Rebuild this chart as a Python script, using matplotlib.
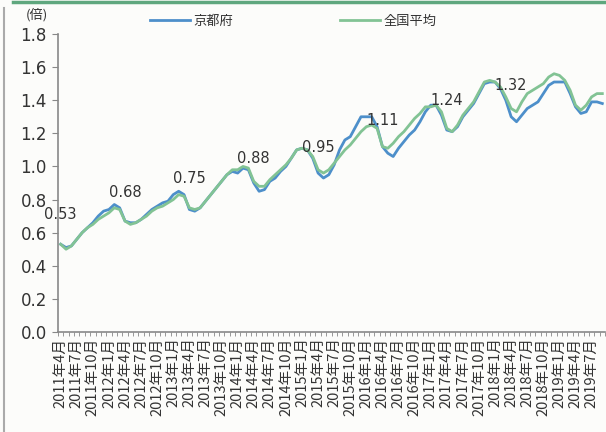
import numpy as np
import matplotlib
matplotlib.use("Agg")
import matplotlib.pyplot as plt
from matplotlib.lines import Line2D

plt.rcParams['font.family'] = ['DejaVu Sans', 'Noto Sans CJK JP']

# monthly series, 2011-04 .. 2019-09
months = [f"{y}年{m}月" for y in range(2011, 2020) for m in range(1, 13)][3:3 + 102]

kyoto = [0.53, 0.51, 0.52, 0.56, 0.60, 0.63, 0.66, 0.70, 0.73, 0.74, 0.77, 0.75,
         0.67, 0.66, 0.66, 0.68, 0.71, 0.74, 0.76, 0.78, 0.79, 0.83, 0.85, 0.83,
         0.74, 0.73, 0.75, 0.79, 0.83, 0.87, 0.91, 0.95, 0.97, 0.96, 0.99, 0.98,
         0.90, 0.85, 0.86, 0.91, 0.93, 0.97, 1.00, 1.05, 1.10, 1.11, 1.10, 1.05,
         0.96, 0.93, 0.95, 1.01, 1.10, 1.16, 1.18, 1.24, 1.30, 1.30, 1.30, 1.24,
         1.12, 1.08, 1.06, 1.11, 1.15, 1.19, 1.22, 1.27, 1.33, 1.37, 1.37, 1.31,
         1.22, 1.21, 1.24, 1.30, 1.34, 1.38, 1.44, 1.50, 1.51, 1.51, 1.47, 1.40,
         1.30, 1.27, 1.31, 1.35, 1.37, 1.39, 1.44, 1.49, 1.51, 1.51, 1.51, 1.44,
         1.36, 1.32, 1.33, 1.39, 1.39, 1.38]

national = [0.53, 0.50, 0.52, 0.56, 0.60, 0.63, 0.65, 0.68, 0.70, 0.72, 0.75, 0.74,
            0.67, 0.65, 0.66, 0.68, 0.70, 0.73, 0.75, 0.76, 0.78, 0.80, 0.83, 0.82,
            0.75, 0.74, 0.75, 0.79, 0.83, 0.87, 0.91, 0.95, 0.98, 0.98, 1.00, 0.99,
            0.91, 0.88, 0.88, 0.92, 0.95, 0.98, 1.01, 1.05, 1.10, 1.11, 1.10, 1.06,
            0.98, 0.96, 0.98, 1.02, 1.06, 1.10, 1.13, 1.17, 1.21, 1.24, 1.25, 1.23,
            1.12, 1.11, 1.14, 1.18, 1.21, 1.25, 1.29, 1.32, 1.36, 1.36, 1.37, 1.33,
            1.23, 1.21, 1.25, 1.31, 1.35, 1.39, 1.45, 1.51, 1.52, 1.51, 1.48, 1.42,
            1.35, 1.33, 1.39, 1.44, 1.46, 1.48, 1.50, 1.54, 1.56, 1.55, 1.52, 1.46,
            1.37, 1.34, 1.37, 1.42, 1.44, 1.44]

# value labels (text, month index, height)
notes = ["0.53", "0.68", "0.75", "0.88", "0.95", "1.11", "1.24", "1.32"]
note_idx = [0, 12, 24, 36, 48, 60, 72, 84]
note_y = [0.71, 0.845, 0.925, 1.05, 1.117, 1.28, 1.40, 1.49]

blue = "#4d8fca"
green = "#82c394"
bg = "#fcfcfa"
txt = "#333333"
cjk = ['Noto Sans CJK JP', 'DejaVu Sans']

fig = plt.figure(figsize=(6.06, 4.32), dpi=100, facecolor=bg)
ax = fig.add_axes([58 / 606, 1 - 332 / 432, 547 / 606, 298 / 432])
ax.set_facecolor(bg)

x = np.arange(len(months))
l1, = ax.plot(x, kyoto, color=blue, lw=2.0, solid_joinstyle="round")
l2, = ax.plot(x, national, color=green, lw=2.0, solid_joinstyle="round")

for t, i, v in zip(notes, note_idx, note_y):
    ax.text(i, v, t, ha="center", va="center", fontsize=10.5, color=txt)

ax.set_xlim(-0.5, len(months) - 0.5)
ax.set_ylim(0, 1.8)
ax.set_yticks(np.arange(0, 1.81, 0.2))
ax.set_yticklabels([f"{v:.1f}" for v in np.arange(0, 1.81, 0.2)], fontsize=12, color=txt)

ax.set_xticks(x[::3])
ax.set_xticklabels(months[::3], rotation=90, fontsize=10.5, color=txt, family=cjk)
ax.set_xticks(np.arange(-0.5, len(months), 1), minor=True)
ax.tick_params(axis="x", which="major", length=0, pad=4)
ax.tick_params(axis="x", which="minor", length=3, color="#888888", direction="out")
ax.tick_params(axis="y", length=4, color="#888888", pad=4)

for s in ["top", "right"]:
    ax.spines[s].set_visible(False)
for s in ["left", "bottom"]:
    ax.spines[s].set_color("#888888")
    ax.spines[s].set_linewidth(1.2)

fig.text(37 / 606, 1 - 15 / 432, "(倍)", ha="center", va="center", fontsize=9.5,
         color=txt, family=cjk)

# legend entries placed one by one
for line, name, xpos in [(l1, "京都府", 150), (l2, "全国平均", 340)]:
    leg = fig.legend([line], [name], loc="center left",
                     bbox_to_anchor=(xpos / 606, 1 - 21 / 432), frameon=False,
                     handlelength=3.0, handletextpad=0.3, borderpad=0, borderaxespad=0,
                     prop={"family": "Noto Sans CJK JP", "size": 9.5})
    leg.get_texts()[0].set_color(txt)

# scan frame: green rule at the top, grey rule at the left
fig.add_artist(Line2D([13 / 606, 1], [1 - 1.5 / 432] * 2, color="#5fa77e", lw=2.5))
fig.add_artist(Line2D([4 / 606] * 2, [0, 1 - 8 / 432], color="#aaaaaa", lw=1.5))

fig.savefig("out.png", dpi=100, facecolor=bg)
